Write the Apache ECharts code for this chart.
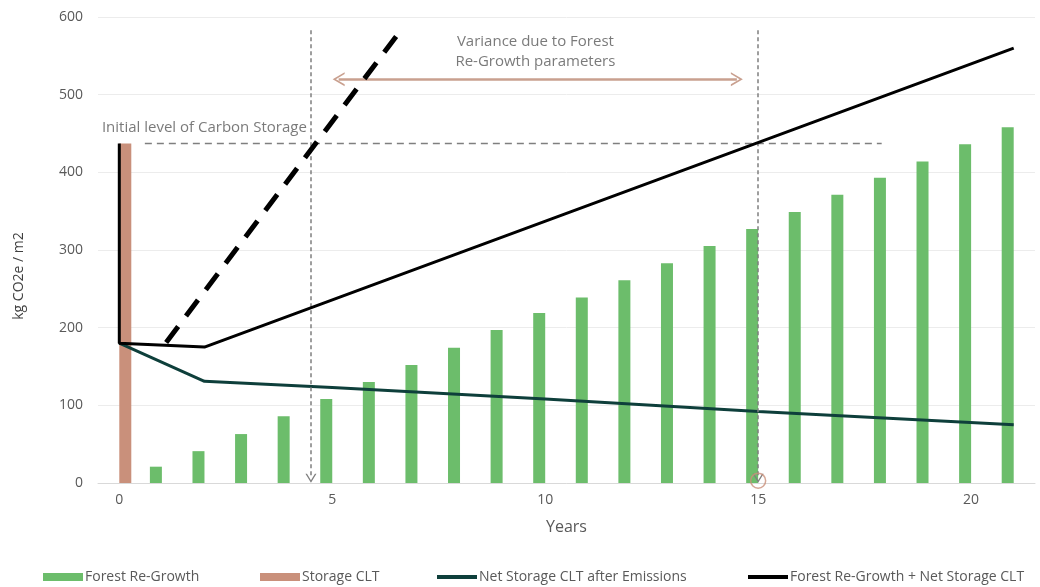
<!DOCTYPE html>
<html><head><meta charset="utf-8">
<script src="https://cdn.jsdelivr.net/npm/echarts@6/dist/echarts.min.js"></script>
<style>html,body{margin:0;padding:0;background:#fff}#c{width:1040px;height:587px}</style>
</head><body><div id="c"></div>
<script>
// ---- data ----
const years = ['0','1','2','3','4','5','6','7','8','9','10','11','12','13','14','15','16','17','18','19','20','21'];
const forestRegrowth = [null,21,41,63,86,108,130,152,174,197,219,239,261,283,305,327,349,371,393,414,436,458];
const storageCLT = [437];
const netStorage = [[0,180],[2,131],[5,123],[10,108],[15,92],[21,75]];
const regrowthPlusNet = [[0,437],[0,180],[2,175],[21,560]];
const fastRegrowth = [[1.1,181],[6.5,575]];
const initialLevel = 437;
const varianceRange = [5.15,14.5];
const varianceLevel = 520;
const markerYears = [4.5,15];
const seriesNames = ['Forest Re-Growth','Storage CLT','Net Storage CLT after Emissions','Forest Re-Growth + Net Storage CLT'];
const annotationTexts = ['Initial level of Carbon Storage','Variance due to Forest\nRe-Growth parameters'];

const txt = '#595959';
const chevron = 'path://M5,0 L10,8 L8.6,8 L5,2.2 L1.4,8 L0,8 Z';
const legendLefts = [43,260,437,748];
function mkLegend(i, h){
  return {left:legendLefts[i], top:570, padding:0, itemWidth:40, itemHeight:h,
    textStyle:{color:txt,fontSize:14,padding:[0,0,0,-3]},
    data:[{name:seriesNames[i],icon:'rect'}]};
}
const chart = echarts.init(document.getElementById('c'));
chart.setOption({
  animation:false,
  textStyle:{fontFamily:'"Open Sans", "Liberation Sans", sans-serif'},
  grid:{left:98,right:5,top:17,bottom:104},
  legend:[mkLegend(0,8),mkLegend(1,8),mkLegend(2,4),mkLegend(3,4)],
  xAxis:[
    {type:'category',data:years,boundaryGap:true,
     axisTick:{show:false},
     axisLine:{lineStyle:{color:'#d9d9d9'}},
     axisLabel:{color:txt,fontSize:14,margin:10,interval:(i)=>i%5===0},
     name:'Years',nameLocation:'middle',nameGap:36,
     nameTextStyle:{color:txt,fontSize:16}},
    {type:'value',min:-0.5,max:21.5,show:false}
  ],
  yAxis:{type:'value',min:0,max:600,interval:100,
    axisLine:{show:false},axisTick:{show:false},
    splitLine:{lineStyle:{color:'#ececec'}},
    axisLabel:{color:txt,fontSize:14,margin:15},
    name:'kg CO2e / m2',nameLocation:'middle',nameGap:72,
    nameTextStyle:{color:'#404040',fontSize:14,padding:[0,52,0,0]}},
  series:[
    {name:seriesNames[0],type:'bar',data:forestRegrowth,barWidth:12,barGap:'0%',
     itemStyle:{color:'#6cbd6b'}},
    {name:seriesNames[1],type:'bar',data:storageCLT,barWidth:12,
     itemStyle:{color:'#c9907b'}},
    {name:seriesNames[2],type:'line',xAxisIndex:1,data:netStorage,symbol:'none',
     lineStyle:{color:'#0e3f3b',width:3},itemStyle:{color:'#0e3f3b'},z:4},
    {name:seriesNames[3],type:'line',xAxisIndex:1,data:regrowthPlusNet,symbol:'none',
     lineStyle:{color:'#000',width:3},itemStyle:{color:'#000'},z:5},
    {name:'fast',type:'line',xAxisIndex:1,data:fastRegrowth,symbol:'none',
     lineStyle:{color:'#000',width:5,type:[20,13]},z:6},
    {name:'marks',type:'scatter',xAxisIndex:1,data:[[markerYears[1],3]],
     symbol:'circle',symbolSize:15,
     itemStyle:{color:'rgba(255,255,255,0)',borderColor:'#c9907b',borderWidth:1.5},z:10,
     markLine:{silent:true,label:{show:false},
       data:[
        [{coord:[markerYears[0],583],symbol:'none',lineStyle:{color:'#7f7f7f',type:[4,3],width:1.5}},
         {coord:[markerYears[0],6],symbol:chevron,symbolSize:[11,9]}],
        [{coord:[markerYears[1],583],symbol:'none',lineStyle:{color:'#7f7f7f',type:[4,3],width:1.5}},
         {coord:[markerYears[1],6],symbol:chevron,symbolSize:[11,9]}],
        [{coord:[0.6,initialLevel],symbol:'none',lineStyle:{color:'#7f7f7f',type:[7,5],width:1.3}},
         {coord:[17.9,initialLevel],symbol:'none'}],
        [{coord:[varianceRange[0],varianceLevel],symbol:chevron,symbolSize:[14,12],lineStyle:{color:'#c9a08f',type:'solid',width:2.5}},
         {coord:[varianceRange[1],varianceLevel],symbol:chevron,symbolSize:[14,12]}]
       ]}},
    {name:'labels',type:'scatter',xAxisIndex:1,symbolSize:1,itemStyle:{color:'rgba(0,0,0,0)'},
     data:[
       {value:[-0.42,458],label:{show:true,position:'right',distance:0,formatter:annotationTexts[0],color:txt,fontSize:15}},
       {value:[9.77,555],label:{show:true,position:'inside',formatter:annotationTexts[1],color:txt,fontSize:15,lineHeight:20,align:'center'}}
     ]}
  ]
});
</script></body></html>
